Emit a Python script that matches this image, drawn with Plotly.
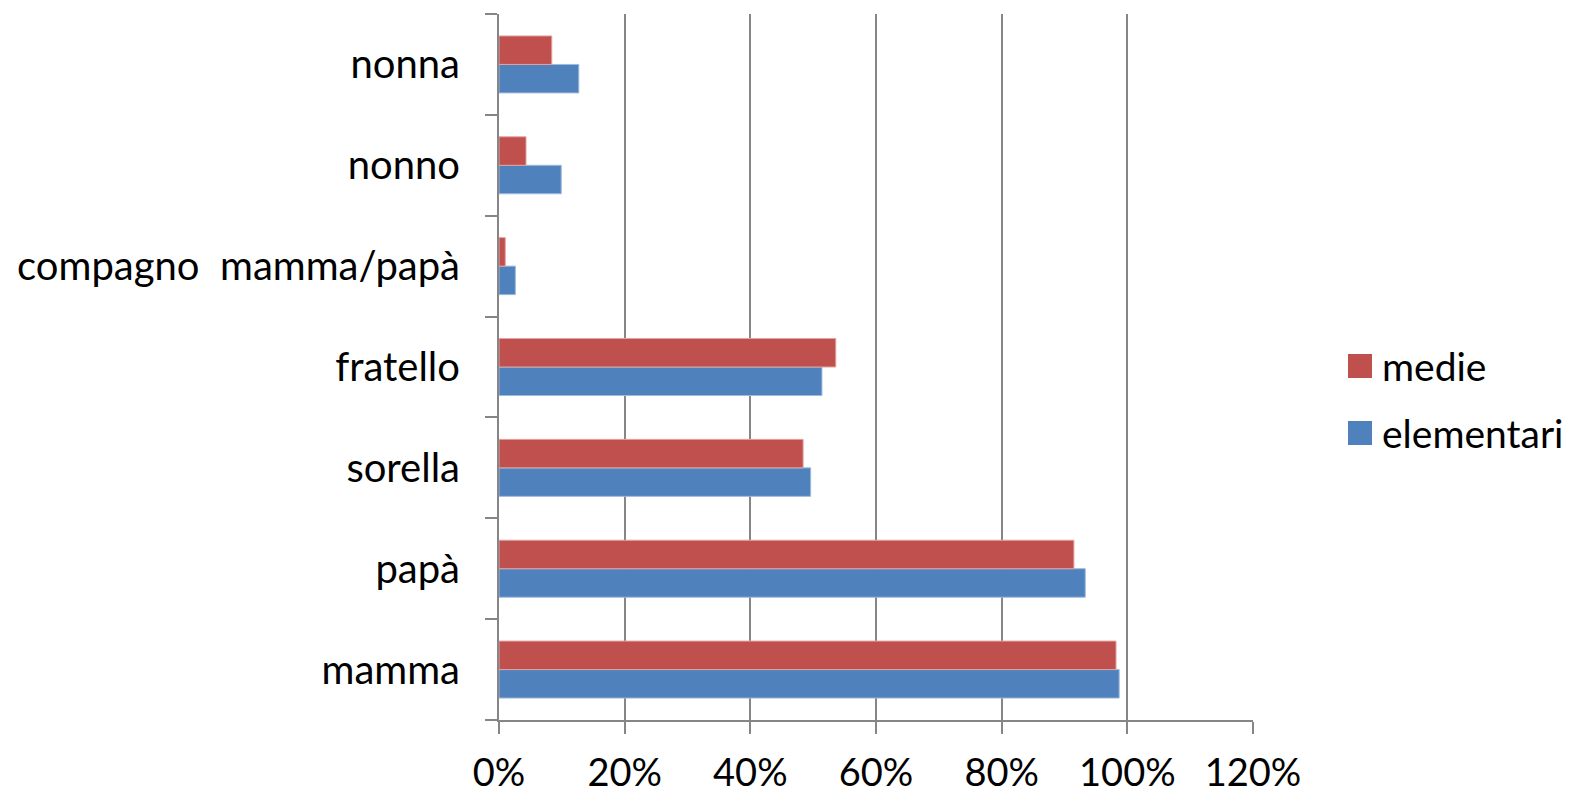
import plotly.graph_objects as go

categories = ["mamma", "papà", "sorella", "fratello", "compagno  mamma/papà", "nonno", "nonna"]
elementari = [98.7, 93.3, 49.6, 51.4, 2.6, 9.9, 12.7]
medie = [98.2, 91.5, 48.4, 53.6, 1.0, 4.3, 8.4]
x_ticks = [0, 20, 40, 60, 80, 100, 120]
x_labels = ["0%", "20%", "40%", "60%", "80%", "100%", "120%"]
series_names = ["medie", "elementari"]
series_colors = ["#C0504D", "#4F81BD"]

FONT = "Lato, 'Open Sans', sans-serif"
GRID = "#868686"

fig = go.Figure()
fig.add_trace(go.Bar(y=categories, x=elementari, name="elementari", orientation="h",
                     marker=dict(color="#4F81BD", line=dict(color="#9DB9DE", width=1)),
                     showlegend=False))
fig.add_trace(go.Bar(y=categories, x=medie, name="medie", orientation="h",
                     marker=dict(color="#C0504D", line=dict(color="#E2A3A1", width=1)),
                     showlegend=False))

# manual legend (paper coordinates)
plot_h = 706.0
plot_w = 754.0
leg_y = [(720 - 366) / plot_h, (720 - 433) / plot_h]
sq_x0 = (1348 - 499) / plot_w
sq_x1 = (1372 - 499) / plot_w
txt_x = (1380 - 499) / plot_w
half = 12 / plot_h
for name, col, yy in zip(series_names, series_colors, leg_y):
    fig.add_shape(type="rect", xref="paper", yref="paper",
                  x0=sq_x0, x1=sq_x1, y0=yy - half, y1=yy + half,
                  fillcolor=col, line=dict(width=0))
    fig.add_annotation(xref="paper", yref="paper", x=txt_x, y=yy,
                       xanchor="left", yanchor="middle", text=name, showarrow=False,
                       font=dict(family=FONT, size=39, color="black"))

fig.update_layout(
    width=1566, height=783,
    margin=dict(l=491, r=321, t=6, b=71, autoexpand=False),
    paper_bgcolor="white", plot_bgcolor="white",
    barmode="group", bargap=0.435, bargroupgap=0,
    font=dict(family=FONT, size=38, color="black"),
    showlegend=False,
    xaxis=dict(range=[0, 120], tickvals=x_ticks, ticktext=x_labels,
               showgrid=True, gridcolor=GRID, gridwidth=2,
               showline=True, linecolor=GRID, linewidth=2,
               ticks="outside", ticklen=12, tickcolor=GRID, tickwidth=2,
               ticklabelstandoff=6, tickfont=dict(size=38),
               zeroline=False, fixedrange=True, automargin=False),
    yaxis=dict(type="category", categoryorder="array", categoryarray=categories,
               showgrid=False, showline=True, linecolor=GRID, linewidth=2,
               ticks="outside", ticklen=12, tickcolor=GRID, tickwidth=2,
               tickson="boundaries", ticklabelstandoff=29, tickfont=dict(size=40),
               fixedrange=True, automargin=False),
)

fig.write_html("out.html")
